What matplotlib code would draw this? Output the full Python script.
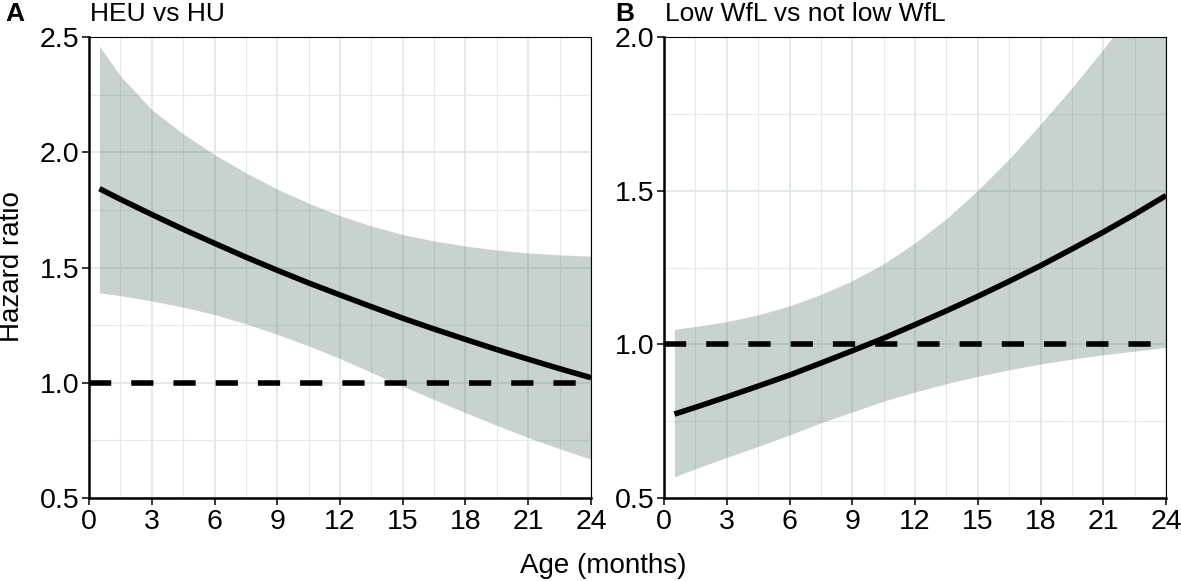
import matplotlib
matplotlib.use("Agg")
import matplotlib.pyplot as plt
from matplotlib.ticker import MultipleLocator

plt.rcParams['font.family'] = ['Liberation Sans', 'DejaVu Sans']

# age in months
age = [0.5, 1.5, 3, 4.5, 6, 7.5, 9, 10.5, 12, 13.5, 15, 16.5, 18, 19.5, 21, 22.5, 24]

# A: HEU vs HU
hr_a = [1.842, 1.796, 1.730, 1.666, 1.605, 1.545, 1.488, 1.433, 1.381, 1.330,
        1.280, 1.233, 1.188, 1.144, 1.102, 1.061, 1.022]
upper_a = [2.460, 2.331, 2.185, 2.080, 1.990, 1.911, 1.840, 1.779, 1.725, 1.680,
           1.643, 1.615, 1.593, 1.576, 1.563, 1.555, 1.549]
lower_a = [1.390, 1.378, 1.355, 1.328, 1.296, 1.256, 1.210, 1.160, 1.105, 1.045,
           0.985, 0.927, 0.870, 0.815, 0.762, 0.714, 0.668]

# B: Low WfL vs not low WfL
hr_b = [0.773, 0.795, 0.829, 0.864, 0.900, 0.939, 0.979, 1.020, 1.064, 1.109,
        1.156, 1.205, 1.256, 1.310, 1.365, 1.423, 1.484]
upper_b = [1.049, 1.058, 1.074, 1.096, 1.125, 1.162, 1.207, 1.262, 1.330, 1.409,
           1.501, 1.603, 1.716, 1.835, 1.960, 2.094, 2.236]
lower_b = [0.569, 0.595, 0.632, 0.668, 0.705, 0.745, 0.780, 0.815, 0.845, 0.872,
           0.896, 0.917, 0.936, 0.952, 0.966, 0.978, 0.990]

panels = [
    ("A", "HEU vs HU", hr_a, lower_a, upper_a, 2.5),
    ("B", "Low WfL vs not low WfL", hr_b, lower_b, upper_b, 2.0),
]
x_ticks = [0, 3, 6, 9, 12, 15, 18, 21, 24]

W, H = 1181, 581
fig = plt.figure(figsize=(W / 100, H / 100), dpi=100)

lefts = [89, 664]
letter_x = [5, 615]
for (letter, title, hr, lo, hi, ymax), left, lx in zip(panels, lefts, letter_x):
    ax = fig.add_axes([left / W, (H - 498) / H, 502 / W, 461 / H])
    ax.fill_between(age, lo, hi, color='#3a6258', alpha=0.28, linewidth=0, zorder=2)
    ax.plot(age, hr, color='black', lw=4, solid_capstyle='butt', zorder=3)
    ax.hlines(1.0, 0, 24, colors='black', lw=4, linestyles=(0, (4.0, 3.6)), zorder=3)
    ax.set_xlim(0, 24)
    ax.set_ylim(0.5, ymax)
    ax.set_xticks(x_ticks)
    ax.xaxis.set_minor_locator(MultipleLocator(1.5))
    ax.yaxis.set_major_locator(MultipleLocator(0.5))
    ax.yaxis.set_minor_locator(MultipleLocator(0.25))
    ax.set_yticklabels([f"{v:.1f}" for v in ax.get_yticks()])
    ax.grid(which='major', color='#e0e8e6', lw=1.3, zorder=0)
    ax.grid(which='minor', color='#e5ebe9', lw=0.8, zorder=0)
    ax.set_axisbelow(True)
    ax.tick_params(which='major', labelsize=20.5, length=5, width=1.1, color='black', pad=2)
    ax.tick_params(axis='x', which='major', pad=3)
    ax.tick_params(which='minor', length=0)
    for s in ['left', 'bottom']:
        ax.spines[s].set_linewidth(1.8)
    for s in ['top', 'right']:
        ax.spines[s].set_linewidth(0.8)
    fig.text(lx / W, (H - 21) / H, letter, fontsize=19, fontweight='bold',
             va='baseline', ha='left')
    fig.text((left + 1) / W, (H - 21) / H, title, fontsize=19, va='baseline', ha='left')

fig.text(12 / W, (H - 267) / H, "Hazard ratio", fontsize=20, rotation=90,
         ha='center', va='center')
fig.text(603 / W, (H - 566) / H, "Age (months)", fontsize=20, ha='center', va='center')

fig.savefig("out.png", dpi=100)
